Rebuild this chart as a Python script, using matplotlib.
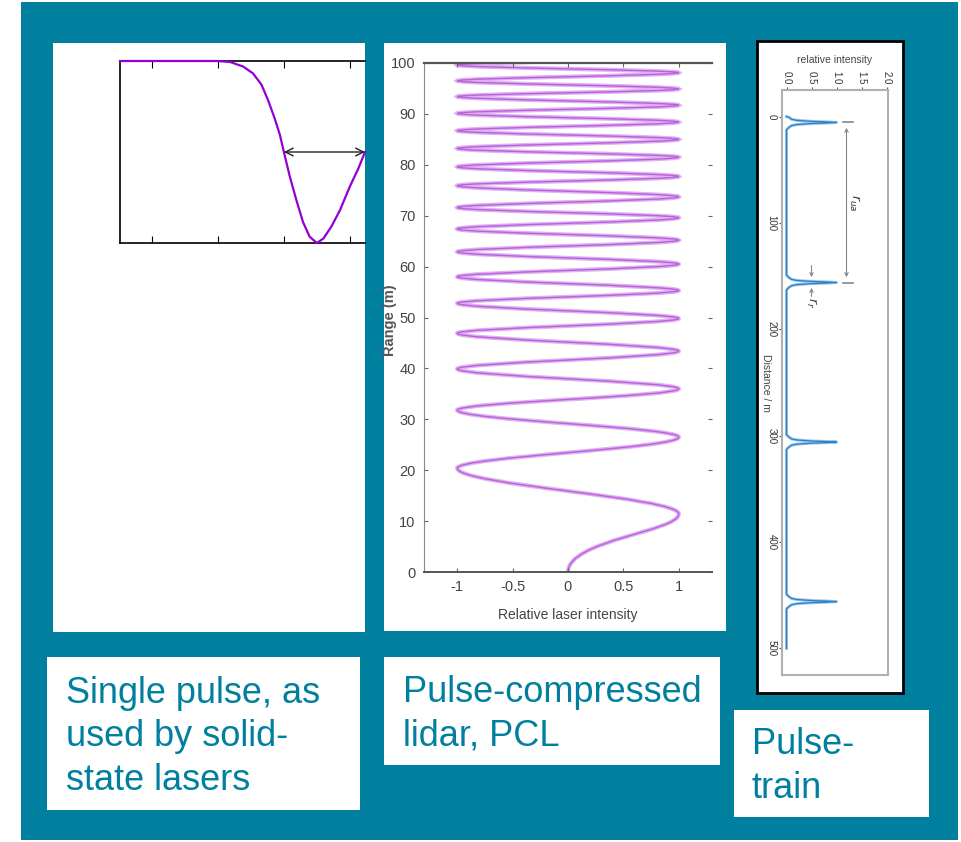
import matplotlib
matplotlib.use("Agg")
import matplotlib.pyplot as plt
from matplotlib import font_manager
from matplotlib.patches import Rectangle, PathPatch
from matplotlib.path import Path

# 选择窄体字（原图被横向压缩）
names = {f.name for f in font_manager.fontManager.ttflist}
NARROW = 'Liberation Sans Narrow' if 'Liberation Sans Narrow' in names else 'Liberation Sans'
plt.rcParams['font.family'] = [NARROW, 'DejaVu Sans']

TEAL = '#00809e'
W, H = 961, 842

# ---- 单脉冲（读图所得）
single_x = [0.515, 1.98, 2.18, 2.38, 2.53, 2.66, 2.76, 2.86, 2.94, 3.00, 3.09,
            3.19, 3.29, 3.39, 3.50, 3.60, 3.72, 3.85, 4.00, 4.13, 4.23]
single_y = [1.0, 1.0, 0.99, 0.94, 0.865, 0.74, 0.57, 0.37, 0.187, 0.0, -0.27,
            -0.53, -0.77, -0.93, -1.0, -0.95, -0.82, -0.64, -0.38, -0.18, 0.0]
single_ticks = [1, 2, 3, 4]

# ---- 脉冲压缩激光雷达：啁啾的极值点 (强度, 距离 m)
pcl_int = [0, 1, -1, 1, -1, 1, -1, 1, -1, 1, -1, 1, -1, 1, -1, 1, -1, 1, -1,
           1, -1, 1, -1, 1, -1, 1, -1, 1, -1, 1, -1, 1, -1, 1, -1, 1]
pcl_range = [0, 11.4, 20.4, 26.5, 31.8, 36.0, 39.9, 43.4, 46.9, 49.8, 52.8,
             55.3, 58.0, 60.5, 62.9, 65.2, 67.4, 69.6, 71.6, 73.7, 75.9, 77.7,
             79.6, 81.5, 83.2, 85.0, 86.7, 88.4, 90.1, 91.7, 93.4, 94.9, 96.5,
             98.1, 99.6, 101.1]
pcl_xticks = [-1, -0.5, 0, 0.5, 1]
pcl_xlabels = ['-1', '-0.5', '0', '0.5', '1']
pcl_yticks = list(range(0, 101, 10))

# ---- 脉冲串
pulse_centres = [5.5, 156, 306, 456]
pulse_offsets = [-7, -5, -3, -2, -1, -0.5, 0, 0.5, 1, 2, 3, 5, 7]
pulse_values = [0.0, 0.04, 0.1, 0.2, 0.5, 0.8, 1.0, 0.8, 0.5, 0.2, 0.1, 0.04, 0.0]
train_start, train_end = 0, 500
train_xticks = [0.0, 0.5, 1.0, 1.5, 2.0]
train_yticks = [0, 100, 200, 300, 400, 500]

box_lines = [
    ["Single pulse, as", "used by solid-", "state lasers"],
    ["Pulse-compressed", "lidar, PCL"],
    ["Pulse-", "train"],
]


def rect(x0, y0, x1, y1):
    return [x0 / W, 1 - y1 / H, (x1 - x0) / W, (y1 - y0) / H]


fig = plt.figure(figsize=(W / 100, H / 100), dpi=100)

# 背景层，像素坐标
bg = fig.add_axes([0, 0, 1, 1], zorder=-1)
bg.set_xlim(0, W)
bg.set_ylim(H, 0)
bg.axis('off')
bg.add_patch(Rectangle((21, 2), 937, 838, color=TEAL, lw=0))
bg.add_patch(Rectangle((53, 43), 312, 589, color='white', lw=0))
bg.add_patch(Rectangle((384, 43), 342, 588, color='white', lw=0))
bg.add_patch(Rectangle((757, 41), 146, 652, facecolor='white', edgecolor='black', lw=2))

boxes = [(47, 657, 313, 153), (384, 657, 336, 108), (734, 710, 195, 107)]
text_pos = [(66, [703, 746, 790]), (403, [702, 746]), (752, [754, 798])]
for (bx, by, bw, bh), (tx, bases), lines in zip(boxes, text_pos, box_lines):
    bg.add_patch(Rectangle((bx, by), bw, bh, color='white', lw=0))
    for base, line in zip(bases, lines):
        bg.text(tx, base, line, color=TEAL, fontsize=26, va='baseline', ha='left')

# ---- 面板1
ax1 = fig.add_axes(rect(120, 61, 365, 243))
ax1.set_facecolor('none')
ax1.plot(single_x, single_y, color='#9400d3', lw=1.6, zorder=3, clip_on=False)
ax1.set_xlim(single_x[0], single_x[-1])
ax1.set_ylim(-1, 1)
ax1.set_xticks(single_ticks)
ax1.set_yticks([])
ax1.tick_params(axis='x', top=True, bottom=True, direction='in', length=5,
                labelbottom=False, width=0.8)
ax1.spines['right'].set_visible(False)
for s in ['top', 'bottom', 'left']:
    ax1.spines[s].set_linewidth(1.2)
ax1.annotate('', xy=(single_x[-1], 0), xytext=(single_x[9], 0),
             arrowprops=dict(arrowstyle='<->', color='#222222', lw=1,
                             mutation_scale=14, shrinkA=0, shrinkB=0))

# ---- 面板2：用贝塞尔曲线连接极值点
ax2 = fig.add_axes(rect(424, 63, 712, 572))
ax2.set_facecolor('none')
verts = [(pcl_int[0], pcl_range[0])]
codes = [Path.MOVETO]
for i in range(1, len(pcl_int)):
    x0, r0 = pcl_int[i - 1], pcl_range[i - 1]
    x1, r1 = pcl_int[i], pcl_range[i]
    dr = r1 - r0
    if i == 1:
        c1, c2 = 0.55 * dr, 0.30 * dr
    else:
        c1 = c2 = 0.363 * dr
    verts += [(x0, r0 + c1), (x1, r1 - c2), (x1, r1)]
    codes += [Path.CURVE4] * 3
chirp = Path(verts, codes)
ax2.add_patch(PathPatch(chirp, facecolor='none', edgecolor='#dfb0f2', lw=3.0))
ax2.add_patch(PathPatch(chirp, facecolor='none', edgecolor='#b861da', lw=1.0))
ax2.set_xlim(-1.3, 1.3)
ax2.set_ylim(0, 100)
ax2.set_xticks(pcl_xticks)
ax2.set_xticklabels(pcl_xlabels)
ax2.set_yticks(pcl_yticks)
ax2.tick_params(direction='in', top=True, right=True, length=3, labelsize=10.5,
                labelcolor='#444444', color='#666666', pad=6)
ax2.spines['right'].set_visible(False)
ax2.spines['top'].set_color('#555555')
ax2.spines['top'].set_linewidth(1.6)
ax2.spines['bottom'].set_color('#555555')
ax2.spines['bottom'].set_linewidth(1.4)
ax2.spines['left'].set_color('#888888')
ax2.set_xlabel('Relative laser intensity', fontsize=10, color='#444444', labelpad=10)
ax2.set_ylabel('Range (m)', fontsize=10.5, color='#555555', fontweight='bold',
               family='Liberation Sans')
ax2.yaxis.set_label_coords(-0.094, 0.495)

# ---- 面板3：脉冲串（旋转的图）
ax3 = fig.add_axes(rect(782, 90, 888, 675))
ax3.set_facecolor('none')
dist = [train_start]
inten = [0.0]
for c in pulse_centres:
    dist += [c + o for o in pulse_offsets if 0 <= c + o <= train_end]
    inten += [v for o, v in zip(pulse_offsets, pulse_values) if 0 <= c + o <= train_end]
dist.append(train_end)
inten.append(0.0)
ax3.plot(inten, dist, color='#9cc8ec', lw=2.2)
ax3.plot(inten, dist, color='#2f7fc4', lw=0.9)
ax3.set_xlim(-0.09, 2.03)
ax3.set_ylim(525, -25)
ax3.xaxis.tick_top()
ax3.xaxis.set_label_position('top')
ax3.set_xticks(train_xticks)
ax3.set_xticklabels(['%.1f' % v for v in train_xticks], rotation=-90)
ax3.set_yticks(train_yticks)
ax3.set_yticklabels([str(v) for v in train_yticks], rotation=-90, va='center')
ax3.tick_params(length=2, labelsize=7, labelcolor='#333333', color='#555555', pad=2)
for s in ax3.spines.values():
    s.set_color('#b0b0b0')
    s.set_linewidth(1.5)
ax3.set_xlabel('relative intensity', fontsize=7.5, color='#444444', labelpad=6)
ax3.set_ylabel('Distance / m', fontsize=7.5, color='#444444', rotation=-90,
               labelpad=4, va='bottom')

# r_ua 标注
c0, c1 = pulse_centres[0], pulse_centres[1]
ax3.annotate('', xy=(1.2, c0 + 5), xytext=(1.2, c1 - 5),
             arrowprops=dict(arrowstyle='<->', color='#888888', lw=0.8,
                             mutation_scale=6, shrinkA=0, shrinkB=0))
for c in (c0, c1):
    ax3.plot([1.12, 1.32], [c, c], color='#888888', lw=1.2)
ax3.text(1.36, (c0 + c1) / 2, r'$r_{ua}$', rotation=-90, fontsize=9,
         ha='center', va='center', color='#333333')
# r_r 标注
ax3.annotate('', xy=(0.5, c1 - 5), xytext=(0.5, c1 - 16),
             arrowprops=dict(arrowstyle='->', color='#888888', lw=0.8,
                             mutation_scale=6, shrinkA=0, shrinkB=0))
ax3.annotate('', xy=(0.5, c1 + 5), xytext=(0.5, c1 + 13),
             arrowprops=dict(arrowstyle='->', color='#888888', lw=0.8,
                             mutation_scale=6, shrinkA=0, shrinkB=0))
ax3.text(0.5, c1 + 19, r'$r_r$', rotation=-90, fontsize=9,
         ha='center', va='center', color='#333333')

fig.savefig('out.png', dpi=100)
